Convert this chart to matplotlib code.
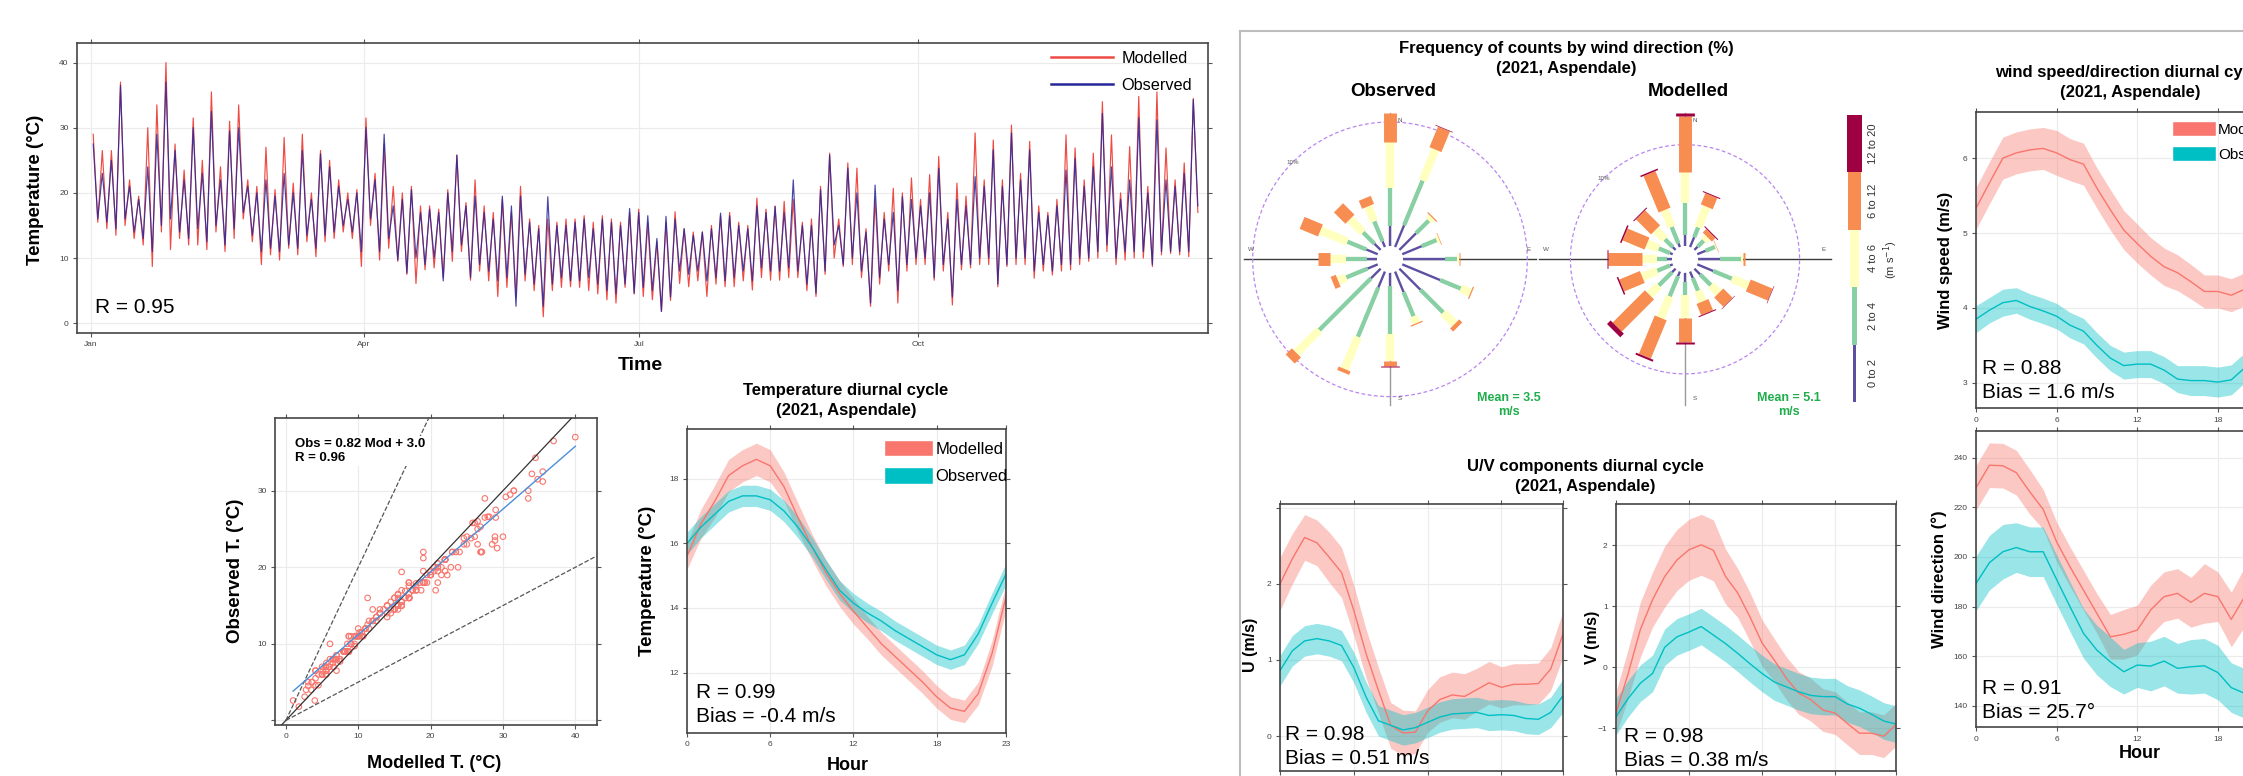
import numpy as np
import matplotlib.pyplot as plt
from matplotlib.patches import Patch
from matplotlib.lines import Line2D

plt.rcParams['font.family'] = ['Liberation Sans', 'DejaVu Sans']

W, H = 2243, 776
RED = '#F8766D'
TEAL = '#00BFC4'
TS_RED = '#EE4B45'
TS_BLUE = '#26269A'

# ---------------- data ----------------
# time series, 3-day blocks from 1 Jan 2021: block max / min (deg C)
obs_max = [27.5, 23, 25, 36.5, 21, 19, 24, 29, 37, 26.5, 22, 30, 23, 32.5, 22, 29.5, 30, 21, 20, 22,
           19.5, 23, 20, 26.5, 19, 26, 24, 21, 19, 20, 30, 22, 29, 18, 19, 20.5, 17, 17.5, 17, 20,
           25.8, 18, 19.5, 17, 16, 19.5, 18, 19.5, 15.5, 14.5, 19.4, 15, 15, 15.5, 16, 14.5, 16, 15.5, 15, 17.6,
           17, 16.5, 13, 16.4, 16, 14.5, 13.5, 14, 14.5, 16.9, 16.5, 15, 14.5, 18, 17, 17.9, 17, 22, 15, 15,
           20.5, 25.8, 15, 23.8, 20, 14, 21.2, 16, 17, 19.4, 19, 18, 20, 23.8, 16, 19, 18, 22.5, 21, 26.6,
           21, 29.2, 22, 26.6, 17, 16.5, 18, 23.5, 25.3, 21, 24, 32.2, 24, 19, 22, 31.5, 20, 31.2, 22, 21,
           23, 34.3]
obs_min = [16, 15.5, 14.5, 16, 14, 13, 11, 15, 16, 14, 13, 14.5, 12.5, 15, 12, 14.5, 17, 13.5, 11, 11.5,
           11, 12, 11.5, 13.5, 11.5, 13.5, 14, 15, 14, 11, 16, 11, 13, 9.7, 7.7, 10, 9, 10, 6.5, 11,
           12, 7, 9, 8, 6.5, 7, 2.6, 7.5, 6, 2.6, 6, 7, 6.5, 6.5, 7, 6, 5, 4.5, 6, 4.6,
           5.5, 5, 1.8, 4, 8, 7.5, 8, 6.5, 7, 6.5, 7, 8, 6.5, 8.5, 8, 8, 8.5, 8, 6, 4.6,
           8, 12, 9, 10, 8, 3.1, 7, 9, 5, 9, 10, 10, 7, 9, 4, 9, 9, 10, 10, 6,
           9, 10, 10, 8, 9, 8, 9, 9, 10, 10, 11, 12, 10, 11, 11, 11, 9, 11, 11, 11,
           11, 18]
mod_max = [29, 26.5, 26.5, 37, 22, 19.5, 30, 33.5, 40, 27.5, 23.5, 31.5, 25, 35.5, 24, 31, 33.5, 22, 21, 27,
           20.5, 28.5, 21.5, 29, 20, 26.5, 25, 22, 20, 20.5, 31.5, 23, 27.5, 21, 20, 21, 18, 18, 17.5, 20.5,
           25.8, 18.5, 22, 18, 17, 19, 17, 21, 16, 15, 16, 15.5, 16, 16, 16.5, 15.5, 16.5, 16, 15.5, 17,
           17.5, 15.5, 12.5, 15.5, 17.1, 14.5, 14, 14, 15, 16.5, 17, 15.5, 15, 19.2, 17.5, 18, 18.7, 19, 15.5, 16,
           21, 26.1, 16, 24.6, 23.8, 14.5, 19, 17, 20.7, 20, 22.3, 19, 22.8, 25.6, 17, 21.5, 19.5, 29.2, 22, 28.1,
           22, 30.4, 23, 27.9, 18, 17, 19, 28.9, 26.9, 22, 26.1, 34, 28.9, 20, 27.1, 34.8, 21, 35.5, 26.9, 22,
           24.6, 34.5]
mod_min = [15.5, 14.5, 13.5, 15, 13, 12, 8.7, 14, 11.3, 13, 12, 12, 11.3, 14, 11, 13, 16, 12.5, 9, 10.5,
           9.7, 11.5, 10.5, 12.5, 10.2, 12.5, 13, 14, 13, 8.7, 15, 9.7, 11.5, 9.5, 7.5, 6.1, 8.2, 8.5, 7, 9.5,
           11, 6.6, 8, 6.5, 4.1, 5.5, 4, 6.5, 5, 1, 5, 5.5, 5.6, 5.5, 5, 4.5, 3.6, 3.1, 5.5, 4.5,
           4.1, 3.6, 1.8, 3.5, 6.1, 5.6, 6.5, 4.1, 6, 5.6, 5.6, 6.5, 5.1, 7, 6.6, 6.6, 7, 7, 5, 4.1,
           7.5, 10, 8.7, 9, 7, 2.6, 6, 8, 3.1, 8, 9, 9, 6.6, 8, 2.8, 8.2, 8.5, 9, 9, 5.6,
           8.7, 9, 9, 6.9, 8, 7.4, 8, 8.2, 9, 9.5, 10, 11, 9, 9.7, 10, 10, 8.7, 10.5, 10.7, 10.5,
           10.2, 17]
month_ticks = [0, 90, 181, 273]
month_labels = ['Jan', 'Apr', 'Jul', 'Oct']

fit_slope, fit_icpt = 0.82, 3.0

hours = list(range(24))
temp_mod = [15.6, 16.6, 17.3, 18.1, 18.4, 18.6, 18.4, 17.75, 16.8, 15.9, 15.1, 14.45,
            13.9, 13.4, 12.9, 12.5, 12.1, 11.7, 11.25, 10.9, 10.8, 11.35, 12.6, 14.35]
temp_mod_hw = [0.4, 0.45, 0.5, 0.5, 0.5, 0.5, 0.5, 0.45, 0.45, 0.4, 0.4, 0.4,
               0.4, 0.35, 0.35, 0.35, 0.35, 0.35, 0.35, 0.35, 0.35, 0.35, 0.4, 0.4]
temp_obs = [16.0, 16.5, 16.9, 17.3, 17.47, 17.47, 17.35, 17.0, 16.5, 15.9, 15.2, 14.55,
            14.15, 13.85, 13.6, 13.3, 13.05, 12.8, 12.55, 12.4, 12.55, 13.2, 14.15, 15.05]
temp_obs_hw = [0.35, 0.33, 0.33, 0.33, 0.33, 0.33, 0.33, 0.33, 0.33, 0.3, 0.3, 0.3,
               0.3, 0.3, 0.3, 0.3, 0.3, 0.3, 0.3, 0.3, 0.3, 0.3, 0.32, 0.33]

ws_mod = [5.33, 5.67, 6.0, 6.07, 6.11, 6.13, 6.07, 5.98, 5.92, 5.6, 5.31, 5.04,
          4.86, 4.69, 4.55, 4.47, 4.35, 4.22, 4.22, 4.17, 4.25, 4.5, 4.8, 5.1]
ws_mod_hw = [0.28, 0.28, 0.28, 0.28, 0.28, 0.28, 0.3, 0.28, 0.28, 0.27, 0.27, 0.26,
             0.26, 0.25, 0.25, 0.24, 0.23, 0.22, 0.22, 0.22, 0.22, 0.23, 0.25, 0.27]
ws_obs = [3.85, 3.97, 4.07, 4.1, 4.02, 3.96, 3.89, 3.77, 3.69, 3.5, 3.33, 3.23,
          3.25, 3.25, 3.17, 3.05, 3.03, 3.03, 3.01, 3.04, 3.2, 3.4, 3.6, 3.75]
ws_obs_hw = [0.18, 0.17, 0.18, 0.17, 0.17, 0.17, 0.17, 0.17, 0.17, 0.17, 0.17, 0.18,
             0.18, 0.18, 0.18, 0.18, 0.2, 0.2, 0.2, 0.2, 0.2, 0.19, 0.18, 0.18]

wd_mod = [227.9, 237, 236.8, 234, 226.3, 219.2, 206.1, 196, 186.6, 177.2, 167.8, 168.8,
          170.5, 178.6, 184, 185.3, 181.7, 185.3, 184, 174.8, 184, 190, 200, 215]
wd_mod_hw = [9, 9, 9, 9, 9, 8, 8, 8, 8, 8, 9, 10, 10, 10, 10, 10, 10, 12, 10, 11, 12, 12, 11, 10]
wd_obs = [189.3, 197.7, 202.1, 203.8, 202.1, 202.1, 190.9, 179.9, 169.2, 162.4, 157.7, 153.7,
          156.4, 156, 158, 155.1, 155.7, 156.1, 153.4, 147.3, 145, 150, 160, 175]
wd_obs_hw = [11, 11, 11, 10, 10, 10, 10, 10, 10, 10, 10, 9, 9, 10, 10, 10, 11, 11, 11, 10, 10, 10, 10, 11]

u_mod = [2.0, 2.33, 2.61, 2.54, 2.35, 2.15, 1.65, 1.08, 0.6, 0.14, 0.04, 0.05,
         0.33, 0.48, 0.54, 0.52, 0.61, 0.7, 0.64, 0.68, 0.68, 0.69, 0.88, 1.34]
u_mod_hw = [0.35, 0.33, 0.3, 0.3, 0.33, 0.33, 0.33, 0.32, 0.3, 0.3, 0.3, 0.28,
            0.28, 0.3, 0.3, 0.3, 0.28, 0.28, 0.27, 0.27, 0.27, 0.27, 0.28, 0.3]
u_obs = [0.86, 1.12, 1.25, 1.28, 1.25, 1.19, 0.9, 0.51, 0.2, 0.14, 0.08, 0.11,
         0.18, 0.25, 0.29, 0.3, 0.31, 0.27, 0.28, 0.27, 0.23, 0.22, 0.31, 0.53]
u_obs_hw = [0.2, 0.2, 0.2, 0.2, 0.2, 0.2, 0.2, 0.2, 0.2, 0.2, 0.2, 0.2,
            0.2, 0.2, 0.2, 0.2, 0.2, 0.2, 0.2, 0.2, 0.2, 0.2, 0.2, 0.22]

v_mod = [-0.75, -0.1, 0.62, 1.11, 1.49, 1.76, 1.93, 2.01, 1.92, 1.49, 1.22, 0.83,
         0.4, 0.12, -0.18, -0.42, -0.53, -0.7, -0.75, -0.92, -1.08, -1.08, -1.13, -0.94]
v_mod_hw = [0.35, 0.4, 0.45, 0.45, 0.5, 0.5, 0.5, 0.5, 0.5, 0.45, 0.4, 0.4,
            0.38, 0.35, 0.35, 0.35, 0.35, 0.35, 0.35, 0.35, 0.35, 0.35, 0.35, 0.35]
v_obs = [-0.81, -0.51, -0.26, -0.1, 0.33, 0.5, 0.58, 0.67, 0.53, 0.39, 0.23, 0.06,
         -0.1, -0.24, -0.32, -0.4, -0.46, -0.48, -0.48, -0.6, -0.67, -0.77, -0.88, -0.93]
v_obs_hw = [0.3] * 24

# wind roses: frequency (%) per direction (N, NNE, ..., NNW) and speed bin
rose_dirs = np.arange(16) * 22.5
speed_bins = ['0 to 2', '2 to 4', '4 to 6', '6 to 12', '12 to 20']
bin_colors = ['#5E4FA2', '#88CFA4', '#FFFFBF', '#F88D52', '#9E0142']
obs_f0_2 = [1.6, 1.9, 1.9, 1.7, 3.4, 3.3, 2.4, 1.8, 1.05, 1.4, 1.1, 0.9, 0.75, 1.0, 0.7, 0.5]
obs_f2_4 = [3.1, 3.9, 1.45, 1.3, 0.9, 1.8, 2.6, 2.1, 3.9, 4.3, 5.9, 1.85, 1.7, 1.65, 1.3, 1.75]
obs_f4_6 = [3.7, 2.7, 0.35, 0.2, 0.2, 0.85, 1.3, 0.6, 2.2, 2.8, 2.6, 0.7, 1.35, 2.35, 1.5, 1.3]
obs_f6_12 = [2.3, 1.8, 0.1, 0.05, 0.1, 0.1, 0.35, 0.1, 0.4, 0.3, 0.7, 0.45, 0.9, 1.6, 1.3, 0.7]
obs_f12_20 = [0, 0.05, 0, 0, 0, 0, 0, 0, 0.03, 0, 0, 0, 0, 0, 0, 0]
mod_f0_2 = [1.1, 1.05, 0.45, 0.9, 2.1, 1.7, 0.8, 0.7, 0.9, 0.5, 0.5, 0.3, 0.5, 0.3, 0.4, 0.4]
mod_f2_4 = [3.1, 1.05, 0.85, 1.0, 2.1, 2.0, 1.5, 1.35, 1.3, 2.15, 1.85, 1.35, 1.0, 1.2, 1.1, 1.75]
mod_f4_6 = [3.1, 2.2, 0.5, 0.1, 0.2, 1.75, 1.1, 1.15, 2.3, 2.3, 1.3, 1.6, 1.45, 1.25, 1.3, 1.8]
mod_f6_12 = [5.5, 1.2, 0.5, 0.05, 0.25, 2.35, 1.3, 1.2, 2.4, 4.1, 4.5, 2.2, 3.3, 2.35, 2.1, 3.9]
mod_f12_20 = [0.3, 0.1, 0.1, 0, 0, 0.05, 0.05, 0.1, 0.15, 0.2, 0.5, 0.15, 0.15, 0.15, 0.1, 0.15]
obs_mean_ws, mod_mean_ws = 3.5, 5.1

# ---------------- helpers ----------------
fig = plt.figure(figsize=(W / 100, H / 100), dpi=100)


def box(x0, y0, x1, y1):
    return [x0 / W, 1 - y1 / H, (x1 - x0) / W, (y1 - y0) / H]


def ftext(x, y, s, **kw):
    kw.setdefault('ha', 'center')
    kw.setdefault('va', 'center')
    return fig.text(x / W, 1 - y / H, s, **kw)


def frame(ax, xt, yt, xtl=None, ytl=None):
    ax.set_xticks(xt)
    ax.set_yticks(yt)
    if xtl is not None:
        ax.set_xticklabels(xtl)
    if ytl is not None:
        ax.set_yticklabels(ytl)
    ax.tick_params(direction='out', length=3, width=0.8, color='#555555', labelsize=6,
                   labelcolor='#444444', top=True, right=True, pad=3)
    for s in ax.spines.values():
        s.set_color('#454545')
        s.set_linewidth(1.2)
    ax.grid(True, color='#EBEBEB', lw=0.8)
    ax.set_axisbelow(True)


def diurnal(ax, mod, mod_hw, obs, obs_hw, ylim, yt, ytl=None):
    h = np.array(hours)
    for m, hw, c in [(mod, mod_hw, RED), (obs, obs_hw, TEAL)]:
        m, hw = np.array(m), np.array(hw)
        ax.fill_between(h, m - hw, m + hw, color=c, alpha=0.4, lw=0)
    ax.plot(h, mod, color=RED, lw=1.0)
    ax.plot(h, obs, color=TEAL, lw=1.0)
    ax.set_xlim(0, 23)
    ax.set_ylim(*ylim)
    frame(ax, [0, 6, 12, 18, 23], yt, ytl=ytl)


def patch_legend(ax, anchor, fs):
    ax.legend(handles=[Patch(fc=RED, ec='white'), Patch(fc=TEAL, ec='white')],
              labels=['Modelled', 'Observed'], loc='upper left', bbox_to_anchor=anchor,
              frameon=False, fontsize=fs, handlelength=2.9, handleheight=1.14,
              handletextpad=0.15, labelspacing=0.62, borderpad=0, borderaxespad=0)


# ---------------- time series ----------------
ax = fig.add_axes(box(77, 43, 1208, 333))
n = len(obs_max)
t = np.ravel(np.column_stack([np.arange(n) * 3 + 0.75, np.arange(n) * 3 + 2.25]))
obs_ts = np.ravel(np.column_stack([obs_max, obs_min]))
mod_ts = np.ravel(np.column_stack([mod_max, mod_min]))
ax.plot(t, mod_ts, color=TS_RED, lw=0.85)
ax.plot(t, obs_ts, color=TS_BLUE, lw=0.85, alpha=0.85)
ax.set_xlim(-4.6, 368.6)
ax.set_ylim(-1.5, 43)
frame(ax, month_ticks, [0, 10, 20, 30, 40], xtl=month_labels)
ax.legend(handles=[Line2D([], [], color=TS_RED, lw=1.8), Line2D([], [], color=TS_BLUE, lw=1.8)],
          labels=['Modelled', 'Observed'], loc='upper right', bbox_to_anchor=(0.986, 0.972),
          frameon=False, fontsize=11.7, handlelength=3.8, handletextpad=0.55,
          labelspacing=0.72, borderpad=0, borderaxespad=0)
ftext(36, 190, 'Temperature (°C)', rotation=90, fontsize=13.5, fontweight='bold')
ftext(640, 365, 'Time', fontsize=14, fontweight='bold')
ftext(95, 308, 'R = 0.95', ha='left', fontsize=15)

# ---------------- scatter ----------------
ax = fig.add_axes(box(275, 418, 597, 725))
mod_all = np.concatenate([mod_max, mod_min])
obs_all = np.concatenate([obs_max, obs_min])
ax.scatter(mod_all, obs_all, s=16, facecolors='none', edgecolors=RED, linewidths=0.8, zorder=2)
xl, yl = (-1.5, 43), (-0.6, 39.5)
ax.plot(xl, xl, color='#333333', lw=0.9, zorder=3)
ax.plot([0, yl[1] / 2], [0, yl[1]], color='#555555', lw=0.9, ls='--', zorder=3)
ax.plot([0, xl[1]], [0, xl[1] / 2], color='#555555', lw=0.9, ls='--', zorder=3)
fx = np.array([mod_all.min(), mod_all.max()])
ax.plot(fx, fit_slope * fx + fit_icpt, color='#4A8FDB', lw=1.0, zorder=4)
ax.set_xlim(*xl)
ax.set_ylim(*yl)
frame(ax, [0, 10, 20, 30, 40], [0, 10, 20, 30], ytl=['', '10', '20', '30'])
ftext(295, 451, f'Obs = {fit_slope:.2f} Mod + {fit_icpt:.1f}\nR = 0.96', ha='left',
      fontsize=9.5, fontweight='bold', linespacing=1.3,
      bbox=dict(fc='white', ec='none', pad=1))
ftext(235, 571, 'Observed T. (°C)', rotation=90, fontsize=13.5, fontweight='bold')
ftext(434, 763, 'Modelled T. (°C)', fontsize=13, fontweight='bold')

# ---------------- temperature diurnal ----------------
ax = fig.add_axes(box(687, 429, 1006, 733))
diurnal(ax, temp_mod, temp_mod_hw, temp_obs, temp_obs_hw, (10.13, 19.54), [12, 14, 16, 18])
patch_legend(ax, (0.619, 0.964), 12)
ftext(846, 391, 'Temperature diurnal cycle', fontsize=12, fontweight='bold')
ftext(846, 411, '(2021, Aspendale)', fontsize=12, fontweight='bold')
ftext(647, 581, 'Temperature (°C)', rotation=90, fontsize=13.5, fontweight='bold')
ftext(848, 765, 'Hour', fontsize=13, fontweight='bold')
ftext(696, 692, 'R = 0.99', ha='left', fontsize=15)
ftext(696, 717, 'Bias = -0.4 m/s', ha='left', fontsize=15)

# ---------------- right block border ----------------
fig.add_artist(Line2D([1239.5 / W, 1239.5 / W], [0, 1 - 31 / H], color='#BDBDBD', lw=1.5))
fig.add_artist(Line2D([1239.5 / W, 1], [1 - 31 / H, 1 - 31 / H], color='#BDBDBD', lw=1.5))

# ---------------- wind roses ----------------
paddle_w = [1.7, 3.1, 6.0, 9.3, 13.5]
R_PX = 146


def rose(cx, cy, bins, mean_ws, label):
    f = np.array(bins).T
    tot = f.sum(axis=1)
    offset = 0.1 * tot.max()
    rmax = offset + tot.max()
    ax = fig.add_axes(box(cx - R_PX, cy - R_PX, cx + R_PX, cy + R_PX), projection='polar')
    ax.set_theta_zero_location('N')
    ax.set_theta_direction(-1)
    ax.set_ylim(0, rmax)
    ax.set_axis_off()
    for th, c in [(0, '#9A9A9A'), (np.pi, '#9A9A9A'), (np.pi / 2, '#3A3A3A'), (3 * np.pi / 2, '#3A3A3A')]:
        ax.plot([th, th], [0, rmax], color=c, lw=1.0, zorder=1, clip_on=False)
    ring = np.linspace(0, 2 * np.pi, 300)
    ax.plot(ring, np.full_like(ring, offset + 10), color='#B985F0', lw=0.9, ls=(0, (3, 2)), zorder=2)
    ax.bar(0, offset, width=2 * np.pi, bottom=0, color='white', lw=0, zorder=3)
    for i, d in enumerate(np.deg2rad(rose_dirs)):
        r0 = offset
        for j in range(len(speed_bins)):
            v = f[i, j]
            if v > 0:
                ax.plot([d, d], [r0, r0 + v], color=bin_colors[j], lw=paddle_w[j],
                        solid_capstyle='butt', zorder=4, clip_on=False)
            r0 += v
    rr = (offset + 10) / rmax * R_PX
    ftext(cx - rr * 0.707, cy - rr * 0.707, '10%', fontsize=4.5, color='#555555')
    lr = 139
    ftext(cx + 10, cy - lr, 'N', fontsize=4.5, color='#555555')
    ftext(cx + 10, cy + lr, 'S', fontsize=4.5, color='#555555')
    ftext(cx + lr, cy - 10, 'E', fontsize=4.5, color='#555555')
    ftext(cx - lr, cy - 10, 'W', fontsize=4.5, color='#555555')
    ftext(cx + 119 if label == 'Observed' else cx + 104, 405, f'Mean = {mean_ws}\nm/s',
          fontsize=9, fontweight='bold', color='#1FAE4B', linespacing=1.25)
    ftext(cx + 3, 92, label, fontsize=13.5, fontweight='bold')


rose(1390, 259.3, [obs_f0_2, obs_f2_4, obs_f4_6, obs_f6_12, obs_f12_20], obs_mean_ws, 'Observed')
rose(1685, 259.3, [mod_f0_2, mod_f2_4, mod_f4_6, mod_f6_12, mod_f12_20], mod_mean_ws, 'Modelled')
ftext(1566, 48, 'Frequency of counts by wind direction (%)', fontsize=12, fontweight='bold')
ftext(1566, 68, '(2021, Aspendale)', fontsize=12, fontweight='bold')

# colour key
cb_w = [3.3, 5.6, 9.3, 13.0, 15.7]
ax = fig.add_axes(box(1844, 115, 1865, 402))
ax.bar(np.zeros(len(speed_bins)), np.ones(len(speed_bins)), bottom=np.arange(len(speed_bins)),
       width=cb_w, color=bin_colors, align='center', lw=0)
ax.set_xlim(-10.5, 10.5)
ax.set_ylim(0, len(speed_bins))
ax.set_axis_off()
for i, lab in enumerate(speed_bins):
    ftext(1873, 402 - (i + 0.5) * 287 / len(speed_bins), lab, rotation=90, fontsize=8, color='#333333')
ftext(1891, 260, r'(m s$^{-1}$)', rotation=90, fontsize=8, color='#333333')

# ---------------- wind speed / direction ----------------
ax = fig.add_axes(box(1976, 111.7, 2285, 408.3))
diurnal(ax, ws_mod, ws_mod_hw, ws_obs, ws_obs_hw, (2.66, 6.62), [3, 4, 5, 6])
patch_legend(ax, (0.633, 0.969), 11)
ftext(2130, 73, 'wind speed/direction diurnal cycle', fontsize=12, fontweight='bold')
ftext(2130, 93, '(2021, Aspendale)', fontsize=12, fontweight='bold')
ftext(1945, 260, 'Wind speed (m/s)', rotation=90, fontsize=12, fontweight='bold')
ftext(1982, 368, 'R = 0.88', ha='left', fontsize=15)
ftext(1982, 392, 'Bias = 1.6 m/s', ha='left', fontsize=15)

ax = fig.add_axes(box(1976, 431, 2285, 727.3))
diurnal(ax, wd_mod, wd_mod_hw, wd_obs, wd_obs_hw, (131.3, 250.8), [140, 160, 180, 200, 220, 240])
ftext(1939, 579, 'Wind direction (°)', rotation=90, fontsize=12, fontweight='bold')
ftext(2140, 754, 'Hour', fontsize=13, fontweight='bold')
ftext(1982, 689, 'R = 0.91', ha='left', fontsize=15)
ftext(1982, 713, 'Bias = 25.7°', ha='left', fontsize=15)

# ---------------- U / V components ----------------
ax = fig.add_axes(box(1280, 504, 1563, 771))
diurnal(ax, u_mod, u_mod_hw, u_obs, u_obs_hw, (-0.46, 3.05), [0, 1, 2, 3], ytl=['0', '1', '2', ''])
ftext(1250, 645, 'U (m/s)', rotation=90, fontsize=11.5, fontweight='bold')
ftext(1285, 735, 'R = 0.98', ha='left', fontsize=15)
ftext(1285, 759, 'Bias = 0.51 m/s', ha='left', fontsize=15)

ax = fig.add_axes(box(1616, 504, 1896, 771))
diurnal(ax, v_mod, v_mod_hw, v_obs, v_obs_hw, (-1.70, 2.68), [-1, 0, 1, 2])
ftext(1592, 637, 'V (m/s)', rotation=90, fontsize=11.5, fontweight='bold')
ftext(1624, 737, 'R = 0.98', ha='left', fontsize=15)
ftext(1624, 760, 'Bias = 0.38 m/s', ha='left', fontsize=15)

ftext(1585, 466, 'U/V components diurnal cycle', fontsize=12, fontweight='bold')
ftext(1585, 486, '(2021, Aspendale)', fontsize=12, fontweight='bold')

fig.savefig('out.png', dpi=100, facecolor='white')
